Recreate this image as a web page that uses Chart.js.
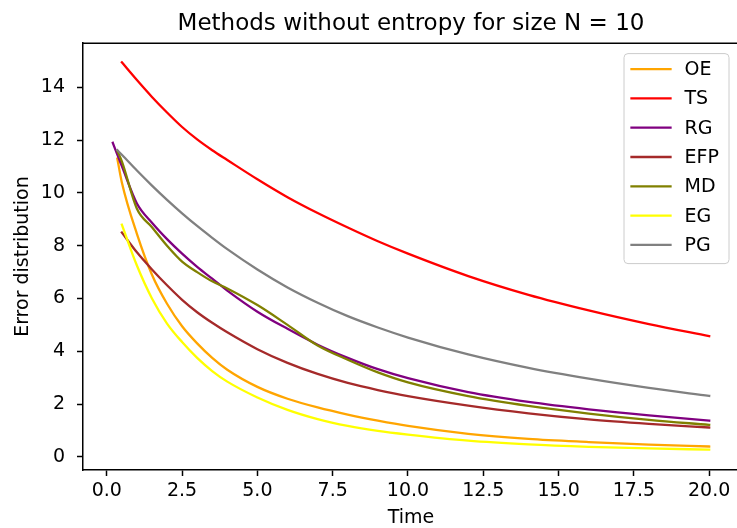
<!DOCTYPE html>
<html>
<head>
<meta charset="utf-8">
<script src="https://cdn.jsdelivr.net/npm/chart.js@4.4.0/dist/chart.umd.min.js"></script>
<style>
  html, body { margin: 0; padding: 0; background: #fff; overflow: hidden; }
  #wrap { width: 737px; height: 528px; overflow: hidden; }
</style>
</head>
<body>
<div id="wrap"><canvas id="errorChart" width="745" height="528"></canvas></div>
<script>
// Datos (tiempo vs error)
var times = [0.2, 0.35, 0.5, 1, 1.5, 2, 2.5, 3, 3.5, 4, 5, 6, 7, 8, 9, 10, 12, 14, 16, 18, 20];

var methods = ['OE', 'TS', 'RG', 'EFP', 'MD', 'EG', 'PG'];

var oeValues  = [null, 11.3, 10.4, 8.45, 6.9, 5.8, 4.95, 4.3, 3.75, 3.3, 2.65, 2.2, 1.87, 1.6, 1.37, 1.17, 0.87, 0.68, 0.56, 0.46, 0.39];
var tsValues  = [null, null, 14.95, 14.28, 13.64, 13.05, 12.5, 12.03, 11.62, 11.25, 10.52, 9.84, 9.24, 8.69, 8.17, 7.7, 6.85, 6.14, 5.55, 5.03, 4.57];
var rgValues  = [11.9, 11.45, 11.02, 9.6, 8.87, 8.25, 7.7, 7.2, 6.75, 6.3, 5.5, 4.85, 4.25, 3.75, 3.32, 2.98, 2.45, 2.08, 1.8, 1.57, 1.37];
var efpValues = [null, null, 8.5, 7.75, 7.1, 6.5, 5.95, 5.48, 5.08, 4.72, 4.08, 3.56, 3.14, 2.8, 2.53, 2.3, 1.94, 1.65, 1.42, 1.25, 1.11];
var mdValues  = [null, 11.6, 11.2, 9.4, 8.7, 8.0, 7.4, 7.0, 6.65, 6.38, 5.75, 5.0, 4.22, 3.68, 3.2, 2.82, 2.3, 1.93, 1.64, 1.4, 1.21];
var egValues  = [null, null, 8.8, 7.25, 6.0, 5.05, 4.35, 3.75, 3.25, 2.85, 2.25, 1.78, 1.43, 1.17, 0.98, 0.84, 0.61, 0.47, 0.38, 0.32, 0.27];
var pgValues  = [null, 11.62, 11.45, 10.85, 10.28, 9.74, 9.23, 8.75, 8.3, 7.87, 7.1, 6.42, 5.84, 5.33, 4.9, 4.52, 3.88, 3.37, 2.96, 2.61, 2.31];

var xTicks = [0, 2.5, 5, 7.5, 10, 12.5, 15, 17.5, 20];
var yTicks = [0, 2, 4, 6, 8, 10, 12, 14];

var series = [oeValues, tsValues, rgValues, efpValues, mdValues, egValues, pgValues];
var colores = ['#ffa500', '#ff0000', '#800080', '#a52a2a', '#808000', '#ffff00', '#808080'];

var fontFamily = "'DejaVu Sans', sans-serif";
Chart.defaults.font.family = fontFamily;
Chart.defaults.color = '#000';

var datasets = series.map(function (vals, i) {
    var pts = [];
    vals.forEach(function (v, j) {
        if (v !== null) pts.push({ x: times[j], y: v });
    });
    return {
        label: methods[i],
        data: pts,
        borderColor: colores[i],
        backgroundColor: colores[i],
        borderWidth: 2.3,
        borderCapStyle: 'square',
        borderJoinStyle: 'round',
        pointRadius: 0,
        cubicInterpolationMode: 'monotone',
        fill: false,
        order: -i
    };
});

// marco superior y leyenda en caja
var framePlugin = {
    id: 'frameLegend',
    afterDraw: function (chart) {
        var ctx = chart.ctx;
        var a = chart.chartArea;
        ctx.save();
        ctx.strokeStyle = '#000';
        ctx.lineWidth = 1.5;
        ctx.beginPath();
        ctx.moveTo(a.left, Math.round(a.top) + 0.25);
        ctx.lineTo(a.right, Math.round(a.top) + 0.25);
        ctx.moveTo(a.right, a.top);
        ctx.lineTo(a.right, a.bottom);
        ctx.stroke();

        var w = 105, h = 210;
        var left = a.right - 10.5 - w;
        var top = a.top + 10;
        ctx.beginPath();
        ctx.roundRect(left + 0.5, top + 0.5, w, h, 4);
        ctx.fillStyle = 'rgba(255,255,255,0.8)';
        ctx.fill();
        ctx.strokeStyle = '#cccccc';
        ctx.lineWidth = 1;
        ctx.stroke();

        ctx.font = '19px ' + fontFamily;
        ctx.textBaseline = 'middle';
        ctx.textAlign = 'left';
        chart.data.datasets.forEach(function (ds, i) {
            var y = top + 16 + i * 29.3;
            ctx.beginPath();
            ctx.strokeStyle = ds.borderColor;
            ctx.lineWidth = 2.3;
            ctx.lineCap = 'square';
            ctx.moveTo(left + 8, y);
            ctx.lineTo(left + 47, y);
            ctx.stroke();
            ctx.fillStyle = '#000';
            ctx.fillText(ds.label, left + 61, y + 1);
        });
        ctx.restore();
    }
};

var ctx = document.getElementById('errorChart').getContext('2d');

var myChart = new Chart(ctx, {
    type: 'line',
    data: { datasets: datasets },
    options: {
        responsive: false,
        animation: false,
        layout: { padding: { left: 0, right: 6, top: 0, bottom: 0 } },
        scales: {
            x: {
                type: 'linear',
                min: -0.79,
                max: 20.99,
                afterFit: function (scale) { scale.height = 58; },
                afterBuildTicks: function (scale) {
                    scale.ticks = xTicks.map(function (v) { return { value: v }; });
                },
                ticks: {
                    color: '#000',
                    font: { size: 19 },
                    padding: 4,
                    maxRotation: 0,
                    autoSkip: false,
                    callback: function (v) { return Number(v).toFixed(1); }
                },
                grid: {
                    drawOnChartArea: false,
                    drawTicks: true,
                    tickLength: 6,
                    tickWidth: 1.5,
                    tickColor: '#000'
                },
                border: { display: true, color: '#000', width: 1.5 },
                title: {
                    display: true,
                    text: 'Time',
                    color: '#000',
                    font: { size: 19, lineHeight: 1.0 },
                    padding: { top: 0, bottom: 0 }
                }
            },
            y: {
                type: 'linear',
                min: -0.5,
                max: 15.68,
                afterFit: function (scale) { scale.width = 83; },
                afterBuildTicks: function (scale) {
                    scale.ticks = yTicks.map(function (v) { return { value: v }; });
                },
                ticks: {
                    color: '#000',
                    font: { size: 19 },
                    padding: 12,
                    autoSkip: false
                },
                grid: {
                    drawOnChartArea: false,
                    drawTicks: true,
                    tickLength: 6,
                    tickWidth: 1.5,
                    tickColor: '#000'
                },
                border: { display: true, color: '#000', width: 1.5 },
                title: {
                    display: true,
                    text: 'Error distribution',
                    color: '#000',
                    font: { size: 19 },
                    padding: { top: 12, bottom: 0 }
                }
            }
        },
        plugins: {
            legend: { display: false },
            tooltip: { enabled: false },
            title: {
                display: true,
                text: 'Methods without entropy for size N = 10',
                color: '#000',
                fullSize: false,
                font: { size: 23, weight: 'normal' },
                padding: { top: 10, bottom: 5.5 }
            }
        }
    },
    plugins: [framePlugin]
});
</script>
</body>
</html>
